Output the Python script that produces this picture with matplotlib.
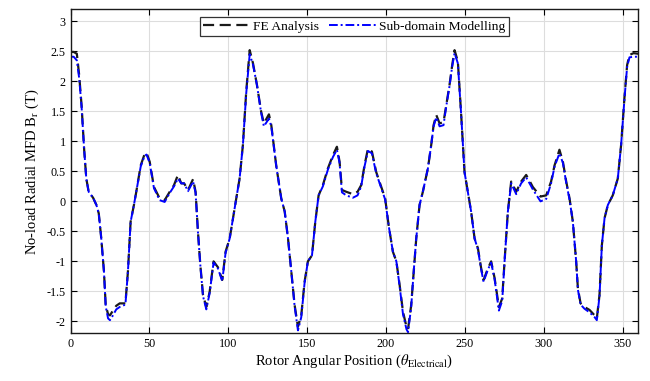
import numpy as np
import matplotlib
matplotlib.use('Agg')
import matplotlib.pyplot as plt

plt.rcParams['font.family'] = 'Liberation Serif'
plt.rcParams['mathtext.fontset'] = 'stix'
plt.rcParams['axes.unicode_minus'] = False

# rotor angle (electrical degrees)
angle = [0, 2, 4, 5.5, 7, 8.6, 10, 11.5, 14.3, 16.4, 17.9, 19.5, 21.2, 22.3, 23.8, 25,
         26.9, 29, 31.2, 34.8, 36.4, 38.1, 40.2, 41.7, 44.5, 47, 48.2, 50.2, 52.9, 56.5,
         59.7, 62.9, 65.6, 68.1, 70.2, 72, 74.5, 77.7, 79.3, 80.8, 82.3, 84, 86.1, 88.2,
         90.7, 93.5, 96.2, 98.3, 100.9, 103, 105.1, 107.2, 109.3, 111.4, 113.6, 115.7,
         118.2, 120.9, 122.6, 125.8, 127.3, 130.4, 133.6, 135.8, 137.9, 140, 142.1, 144.2,
         146.3, 148.4, 150.5, 153.1, 155.2, 157.3, 160, 163.2, 166.4, 168.9, 170.6, 172.1,
         174.8, 179, 182, 184.3, 186.4, 188.6, 191.1, 193.8, 197, 199.5, 201.7, 204.4,
         206.6, 208.7, 210.8, 213, 214, 216, 217.5, 219.2, 221.3, 223.4, 226.6, 228.7,
         230.2, 231.9, 234, 236.5, 238.2, 240.3, 242, 243.5, 245.6, 247.7, 249.8, 251.9,
         254, 256.2, 258.3, 260.4, 261.9, 264.6, 266.7, 268.9, 271.6, 273.7, 275.2, 277.3,
         279.4, 282.6, 285.7, 288.9, 291.9, 293.1, 298, 301.6, 304.7, 306.9, 310, 312.2,
         314.3, 316.4, 318.5, 320.6, 321.7, 323.4, 325.9, 329.1, 332.3, 333.7, 335.4,
         336.9, 338.6, 340.7, 343.8, 347, 349.1, 351.2, 352.9, 354.4, 357, 360]

# FE analysis
br_fe = [2.49, 2.49, 2.46, 2.1, 1.6, 0.88, 0.38, 0.16, 0.06, -0.06, -0.2, -0.62, -1.17, -1.73,
         -1.88, -1.9, -1.82, -1.74, -1.70, -1.70, -1.17, -0.34, -0.06, 0.16, 0.6, 0.79, 0.81,
         0.66, 0.24, 0.05, 0.02, 0.16, 0.27, 0.44, 0.3, 0.3, 0.19, 0.37, 0.16, -0.51, -1.06,
         -1.56, -1.76, -1.51, -1.0, -1.1, -1.31, -0.84, -0.62, -0.28, 0.05, 0.38, 0.94, 1.83,
         2.52, 2.3, 1.94, 1.49, 1.3, 1.45, 1.27, 0.6, 0.05, -0.17, -0.62, -1.17, -1.73, -2.09,
         -1.9, -1.34, -1.0, -0.9, -0.34, 0.1, 0.27, 0.55, 0.77, 0.91, 0.66, 0.19, 0.16, 0.12,
         0.16, 0.27, 0.6, 0.88, 0.83, 0.49, 0.24, 0.05, -0.4, -0.84, -1.0, -1.4, -1.84, -2.09,
         -2.13, -1.73, -1.2, -0.62, -0.06, 0.16, 0.55, 0.94, 1.27, 1.44, 1.3, 1.32, 1.6, 1.94,
         2.27, 2.52, 2.33, 1.44, 0.49, 0.16, -0.17, -0.62, -0.78, -1.12, -1.31, -1.12, -1.0,
         -1.28, -1.76, -1.62, -1.0, -0.17, 0.33, 0.16, 0.33, 0.44, 0.3, 0.24, 0.08, 0.1, 0.33,
         0.6, 0.86, 0.66, 0.33, 0.05, -0.34, -1.0, -1.45, -1.70, -1.76, -1.81, -1.9, -1.95,
         -1.56, -0.73, -0.28, -0.06, 0.1, 0.38, 0.94, 1.72, 2.27, 2.44, 2.47, 2.46]

# sub-domain model
br_sd = [2.41, 2.41, 2.35, 2.05, 1.58, 0.88, 0.38, 0.16, 0.06, -0.06, -0.2, -0.62, -1.17, -1.75,
         -1.95, -1.98, -1.9, -1.8, -1.76, -1.72, -1.17, -0.34, -0.06, 0.16, 0.58, 0.76, 0.78,
         0.64, 0.22, 0.02, -0.01, 0.14, 0.25, 0.38, 0.3, 0.3, 0.17, 0.33, 0.14, -0.51, -1.06,
         -1.58, -1.8, -1.53, -1.02, -1.12, -1.33, -0.86, -0.62, -0.28, 0.05, 0.38, 0.94, 1.8,
         2.45, 2.28, 1.94, 1.47, 1.25, 1.38, 1.25, 0.6, 0.05, -0.17, -0.62, -1.17, -1.75, -2.15,
         -1.93, -1.36, -1.0, -0.9, -0.34, 0.1, 0.25, 0.53, 0.74, 0.86, 0.64, 0.15, 0.1, 0.06,
         0.1, 0.25, 0.58, 0.84, 0.8, 0.47, 0.22, 0.03, -0.4, -0.84, -1.0, -1.42, -1.88, -2.13,
         -2.18, -1.76, -1.2, -0.62, -0.06, 0.16, 0.55, 0.94, 1.25, 1.4, 1.25, 1.27, 1.58, 1.92,
         2.25, 2.47, 2.3, 1.44, 0.49, 0.16, -0.17, -0.62, -0.8, -1.14, -1.34, -1.14, -1.02,
         -1.3, -1.82, -1.66, -1.0, -0.17, 0.3, 0.12, 0.3, 0.4, 0.26, 0.2, 0.0, 0.04, 0.3,
         0.58, 0.8, 0.64, 0.31, 0.03, -0.34, -1.0, -1.47, -1.72, -1.79, -1.85, -1.93, -1.98,
         -1.58, -0.73, -0.28, -0.06, 0.1, 0.38, 0.94, 1.7, 2.24, 2.4, 2.41, 2.41]

fig = plt.figure(figsize=(6.5, 3.81), dpi=100)
ax = fig.add_axes([0.1085, 0.125, 0.8735, 0.8505])

ax.plot(angle, br_fe, color='#1a1a1a', linestyle=(0, (5, 2.5)), linewidth=1.6,
        label='FE Analysis')
ax.plot(angle, br_sd, color='#0000ff', linestyle=(0, (4.5, 1.5, 1, 1.5)), linewidth=1.4,
        label='Sub-domain Modelling')

ax.set_xlim(0, 360)
ax.set_ylim(-2.2, 3.2)
ax.set_xticks(np.arange(0, 351, 50))
ax.set_yticks(np.arange(-2, 3.01, 0.5))
ax.set_yticklabels(['-2', '-1.5', '-1', '-0.5', '0', '0.5', '1', '1.5', '2', '2.5', '3'])
ax.tick_params(direction='in', top=True, right=True, labelsize=8.7, length=4, width=0.8)
ax.grid(True, color='#dddddd', linewidth=0.8)
ax.set_axisbelow(True)
for s in ax.spines.values():
    s.set_linewidth(1.0)
    s.set_color('#1a1a1a')

ax.set_xlabel(r'Rotor Angular Position ($\theta_{\mathrm{Electrical}}$)', fontsize=10.5,
              labelpad=2)
ax.set_ylabel(r'No-load Radial MFD B$_{\mathrm{r}}$ (T)', fontsize=10.5, labelpad=4)

leg = ax.legend(loc='upper center', ncol=2, fontsize=9.7, fancybox=False,
                edgecolor='#333333', framealpha=1, borderaxespad=0.55,
                handlelength=3.5, handletextpad=0.2, columnspacing=0.75,
                borderpad=0.25)
leg.get_frame().set_linewidth(0.9)

fig.savefig('out.png', dpi=100)
